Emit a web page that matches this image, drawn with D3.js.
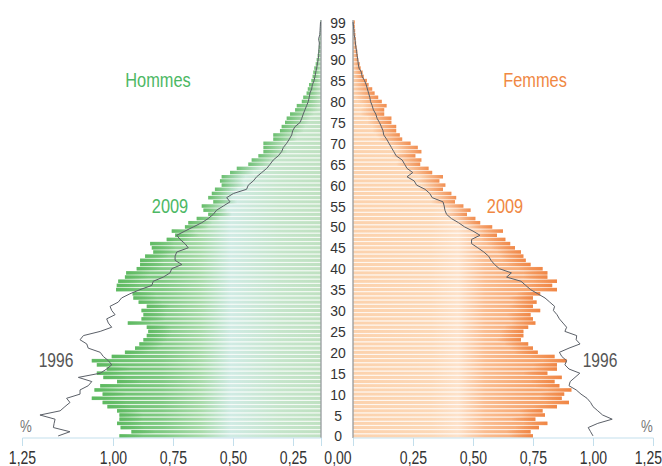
<!DOCTYPE html>
<html>
<head>
<meta charset="utf-8">
<script src="https://cdn.jsdelivr.net/npm/d3@7"></script>
<style>
body { margin: 0; background: #fff; }
text { font-family: "Liberation Sans", Arial, sans-serif; }
</style>
</head>
<body>
<div id="chart"></div>
<script>
// ages 0..99, values in % of total population
var ages = d3.range(0, 100);

var male2009 = [0.84,0.79,0.835,0.85,0.84,0.84,0.85,0.89,0.91,0.955,
  0.91,0.944,0.92,0.85,0.907,0.934,0.893,0.934,0.955,0.872,
  0.817,0.775,0.757,0.74,0.726,0.72,0.726,0.805,0.748,0.74,
  0.748,0.726,0.76,0.782,0.785,0.854,0.851,0.845,0.817,0.812,
  0.768,0.754,0.754,0.733,0.699,0.705,0.712,0.643,0.608,0.622,
  0.567,0.553,0.518,0.47,0.49,0.497,0.449,0.47,0.455,0.442,
  0.414,0.421,0.414,0.379,0.351,0.303,0.289,0.261,0.24,0.24,
  0.24,0.199,0.199,0.171,0.164,0.15,0.143,0.129,0.108,0.101,
  0.08,0.074,0.06,0.055,0.05,0.04,0.035,0.032,0.028,0.022,
  0.018,0.014,0.011,0.009,0.007,0.006,0.005,0.004,0.003,0.003];

var female2009 = [0.75,0.74,0.775,0.81,0.76,0.80,0.79,0.85,0.90,0.87,
  0.88,0.91,0.86,0.84,0.87,0.81,0.85,0.85,0.89,0.84,
  0.77,0.75,0.73,0.70,0.71,0.71,0.73,0.76,0.75,0.74,
  0.78,0.75,0.765,0.75,0.78,0.85,0.83,0.85,0.81,0.81,
  0.79,0.74,0.72,0.71,0.70,0.675,0.655,0.635,0.60,0.625,
  0.58,0.53,0.51,0.475,0.49,0.46,0.425,0.43,0.41,0.375,
  0.385,0.36,0.375,0.33,0.315,0.28,0.285,0.26,0.285,0.27,
  0.24,0.205,0.195,0.18,0.18,0.16,0.16,0.13,0.13,0.14,
  0.12,0.105,0.09,0.08,0.065,0.058,0.045,0.04,0.032,0.028,
  0.022,0.02,0.018,0.015,0.013,0.012,0.01,0.009,0.008,0.008];

var male1996 = [1.095,1.046,1.115,1.112,1.108,1.171,1.087,1.067,1.046,1.06,
  1.004,1.004,0.97,0.955,1.011,0.92,0.893,0.872,0.886,0.907,
  0.92,0.97,0.976,1.004,0.99,0.92,0.872,0.886,0.893,0.858,
  0.872,0.879,0.845,0.831,0.796,0.754,0.705,0.699,0.657,0.629,
  0.622,0.58,0.608,0.608,0.601,0.553,0.567,0.587,0.601,0.567,
  0.532,0.497,0.47,0.449,0.435,0.407,0.379,0.393,0.365,0.31,
  0.303,0.282,0.268,0.247,0.226,0.212,0.199,0.178,0.164,0.157,
  0.143,0.132,0.122,0.118,0.108,0.087,0.08,0.074,0.067,0.06,
  0.053,0.049,0.046,0.039,0.036,0.029,0.025,0.022,0.018,0.015,
  0.012,0.01,0.009,0.008,0.007,0.01,0.005,0.004,0.003,0.002];

var female1996 = [1.00,0.99,0.98,1.02,1.08,1.04,1.02,1.00,0.99,0.975,
  0.95,0.93,0.90,0.905,0.925,0.945,0.90,0.883,0.89,0.87,
  0.86,0.90,0.946,0.93,0.932,0.883,0.89,0.875,0.86,0.85,
  0.835,0.84,0.82,0.80,0.77,0.74,0.72,0.70,0.64,0.66,
  0.61,0.59,0.575,0.565,0.545,0.52,0.494,0.494,0.529,0.50,
  0.465,0.44,0.41,0.39,0.383,0.38,0.375,0.33,0.32,0.30,
  0.265,0.255,0.225,0.249,0.225,0.215,0.205,0.18,0.17,0.16,
  0.15,0.14,0.128,0.125,0.118,0.11,0.10,0.095,0.085,0.08,
  0.073,0.07,0.065,0.06,0.055,0.048,0.038,0.035,0.025,0.022,
  0.02,0.017,0.015,0.012,0.01,0.008,0.005,0.004,0.002,0.0];

var ageTicks = [0,5,10,15,20,25,30,35,40,45,50,55,60,65,70,75,80,85,90,95,99];
var xTicks = [0.25, 0.5, 0.75, 1.0, 1.25];

var width = 662, height = 466;
var green = "#4cb864", orange = "#f08843";
var narrow = 0.78; // horizontal squeeze to mimic the condensed font

var svg = d3.select("#chart").append("svg")
    .attr("width", width)
    .attr("height", height);

var y = d3.scaleBand().domain(ages).range([438, 20]);
var bw = y.bandwidth();
var xL = d3.scaleLinear().domain([0, 1.25]).range([321, 21]);
var xR = d3.scaleLinear().domain([0, 1.25]).range([353, 653]);
// left tick labels in the original sit off the bar scale
var xLaxis = d3.scaleLinear().domain([0, 0.25, 1.0, 1.25]).range([321, 293, 113, 22]);

var defs = svg.append("defs");
function grad(id, x1, x2, stops) {
    var g = defs.append("linearGradient").attr("id", id)
        .attr("gradientUnits", "userSpaceOnUse")
        .attr("x1", x1).attr("x2", x2).attr("y1", 0).attr("y2", 0);
    stops.forEach(function(s) {
        g.append("stop").attr("offset", s[0]).attr("stop-color", s[1]);
    });
}
grad("gM", 321, 21, [[0, "#bfe1c1"], [0.14, "#c5e5cb"], [0.3, "#d0ebe4"], [0.4, "#a8dbaa"],
    [0.53, "#80ca83"], [0.7, "#68c06b"], [1, "#5cb85f"]]);
grad("gF", 353, 653, [[0, "#fcd2ad"], [0.26, "#fcd8b7"], [0.35, "#fde2ca"], [0.44, "#fabd91"],
    [0.6, "#f6a36b"], [1, "#f08a47"]]);

function tipGrad(id, col, reverse) {
    var g = defs.append("linearGradient").attr("id", id);
    g.append("stop").attr("offset", 0).attr("stop-color", col).attr("stop-opacity", reverse ? 0 : 0.85);
    g.append("stop").attr("offset", 1).attr("stop-color", col).attr("stop-opacity", reverse ? 0.85 : 0);
}
tipGrad("tM", "#5cb85f", false);
tipGrad("tF", "#ef8240", true);

// bars
svg.append("g").selectAll("rect")
    .data(ages)
    .enter()
    .append("rect")
    .attr("x", function(d) { return xL(male2009[d]); })
    .attr("y", function(d) { return y(d) + 0.35; })
    .attr("width", function(d) { return xL(0) - xL(male2009[d]); })
    .attr("height", bw - 0.7)
    .attr("fill", "url(#gM)")
    .attr("stroke", "rgba(255,255,255,0.55)")
    .attr("stroke-width", 0.5);

svg.append("g").selectAll("rect")
    .data(ages)
    .enter()
    .append("rect")
    .attr("x", function(d) { return xL(male2009[d]); })
    .attr("y", function(d) { return y(d) + 0.35; })
    .attr("width", function(d) { return Math.min(24, xL(0) - xL(male2009[d])); })
    .attr("height", bw - 0.7)
    .attr("fill", "url(#tM)");

svg.append("g").selectAll("rect")
    .data(ages)
    .enter()
    .append("rect")
    .attr("x", xR(0))
    .attr("y", function(d) { return y(d) + 0.35; })
    .attr("width", function(d) { return xR(female2009[d]) - xR(0); })
    .attr("height", bw - 0.7)
    .attr("fill", "url(#gF)")
    .attr("stroke", "rgba(255,255,255,0.55)")
    .attr("stroke-width", 0.5);

svg.append("g").selectAll("rect")
    .data(ages)
    .enter()
    .append("rect")
    .attr("x", function(d) { var w = Math.min(24, xR(female2009[d]) - xR(0)); return xR(female2009[d]) - w; })
    .attr("y", function(d) { return y(d) + 0.35; })
    .attr("width", function(d) { return Math.min(24, xR(female2009[d]) - xR(0)); })
    .attr("height", bw - 0.7)
    .attr("fill", "url(#tF)");

// panel edges
svg.append("line").attr("x1", xL(0)).attr("x2", xL(0)).attr("y1", 20).attr("y2", 438)
    .attr("stroke", "#8e9396").attr("stroke-width", 1.2);
svg.append("line").attr("x1", xR(0)).attr("x2", xR(0)).attr("y1", 20).attr("y2", 438)
    .attr("stroke", "#8e9396").attr("stroke-width", 1.2);

// 1996 lines
var lineM = d3.line()
    .x(function(d) { return xL(male1996[d]); })
    .y(function(d) { return y(d) + bw / 2; });
var lineF = d3.line()
    .x(function(d) { return xR(female1996[d]); })
    .y(function(d) { return y(d) + bw / 2; });
svg.append("path").attr("d", lineM(ages)).attr("fill", "none")
    .attr("stroke", "#5b6068").attr("stroke-width", 1);
svg.append("path").attr("d", lineF(ages)).attr("fill", "none")
    .attr("stroke", "#5b6068").attr("stroke-width", 1);

// age labels
svg.append("g").selectAll("text")
    .data(ageTicks)
    .enter()
    .append("text")
    .attr("transform", function(d) { return "translate(338," + (y(d) + bw / 2) + ") scale(0.9,1)"; })
    .attr("dy", "0.36em")
    .attr("text-anchor", "middle")
    .style("font-size", "15.5px")
    .attr("fill", "#333")
    .text(function(d) { return d; });

// x axes
var fmt = function(d) { return d3.format(".2f")(d).replace(".", ","); };
var axL = svg.append("g").attr("transform", "translate(0,438)")
    .call(d3.axisBottom(xLaxis).tickValues([0].concat(xTicks)).tickSize(8).tickPadding(6)
        .tickFormat(function(d) { return d ? fmt(d) : ""; }));
var axR = svg.append("g").attr("transform", "translate(0,438)")
    .call(d3.axisBottom(xR).tickValues([0].concat(xTicks)).tickSize(8).tickPadding(6)
        .tickFormat(function(d) { return d ? fmt(d) : ""; }));
[axL, axR].forEach(function(ax) {
    ax.select(".domain").attr("stroke", "#c3dfec").attr("d", function() {
        return d3.select(this).attr("d").replace(/V\d+(\.\d+)?/g, "V0");
    });
    ax.selectAll(".tick line").attr("stroke", "#c3dfec");
    ax.selectAll(".tick text").attr("fill", "#333").style("font-size", "18px")
        .style("font-family", "'Liberation Sans', Arial, sans-serif")
        .attr("y", 13).attr("dy", "0.71em")
        .attr("transform", "scale(" + narrow + ",1)");
});
// the last right label hugs the window edge
axR.selectAll(".tick text").filter(function(d) { return d === 1.25; })
    .attr("text-anchor", "end").attr("x", 11);
svg.append("text").attr("transform", "translate(338,464) scale(" + narrow + ",1)")
    .attr("text-anchor", "middle")
    .attr("fill", "#333").style("font-size", "18px").text(fmt(0));

// titles
function label(x, yy, txt, col, size) {
    svg.append("text").attr("transform", "translate(" + x + "," + yy + ") scale(" + narrow + ",1)")
        .attr("text-anchor", "middle")
        .attr("fill", col).style("font-size", size + "px").text(txt);
}
label(158, 87, "Hommes", green, 21);
label(535, 87, "Femmes", orange, 21);
label(170, 213, "2009", green, 21);
label(505, 213, "2009", orange, 21);
label(56, 367, "1996", "#555", 20);
label(600, 367, "1996", "#555", 20);
label(26, 432, "%", "#777", 17);
label(647, 432, "%", "#777", 17);
</script>
</body>
</html>
